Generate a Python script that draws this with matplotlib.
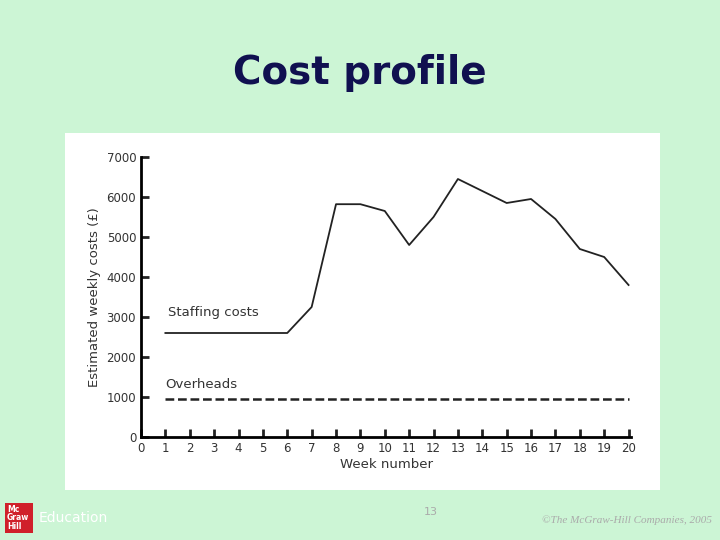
import matplotlib
matplotlib.use("Agg")
import matplotlib.pyplot as plt
from matplotlib.patches import Rectangle

weeks = list(range(1, 21))
staffing = [2600, 2600, 2600, 2600, 2600, 2600, 3250, 5820, 5820, 5650,
            4800, 5500, 6450, 6150, 5850, 5950, 5450, 4700, 4500, 3800]
overheads = [950] * 20
xticks = list(range(0, 21))
yticks = [0, 1000, 2000, 3000, 4000, 5000, 6000, 7000]

bg = "#ccf5d5"
fig = plt.figure(figsize=(7.2, 5.4), dpi=100, facecolor=bg)
fig.add_artist(Rectangle((65/720, 1-490/540), 595/720, 357/540,
                         transform=fig.transFigure, facecolor="white", edgecolor="none", zorder=0))
ax = fig.add_axes([141/720, 1-437/540, 490/720, 280/540])
ax.set_facecolor("white")
ax.plot(weeks, staffing, color="#222222", lw=1.3)
ax.plot(weeks, overheads, color="#222222", lw=1.8, ls=(0, (3.5, 1.5)))
ax.set_xlim(0, 20.1)
ax.set_ylim(0, 7000)
ax.set_xticks(xticks)
ax.set_yticks(yticks)
ax.tick_params(direction="in", length=6, width=2, labelsize=8.5, color="#222222", labelcolor="#333333")
for s in ["top", "right"]:
    ax.spines[s].set_visible(False)
for s in ["left", "bottom"]:
    ax.spines[s].set_linewidth(2)
ax.set_xlabel("Week number", fontsize=9.5, labelpad=2, color="#333333")
ax.set_ylabel("Estimated weekly costs (£)", fontsize=9.5, labelpad=4, color="#333333")
ax.text(1.1, 2950, "Staffing costs", fontsize=9.5, va="bottom", color="#333333")
ax.text(1.0, 1150, "Overheads", fontsize=9.5, va="bottom", color="#333333")

fig.text(0.5, 1-73/540, "Cost profile", ha="center", va="center",
         fontsize=28, fontweight="bold", color="#101050")
fig.text(431/720, 1-512/540, "13", ha="center", va="center", fontsize=8, color="#aaaaaa")
fig.text(712/720, 1-520/540, "©The McGraw-Hill Companies, 2005", ha="right", va="center",
         fontsize=8, color="#aaaaaa", style="italic", family="Liberation Serif")
fig.add_artist(Rectangle((5/720, 1-533/540), 28/720, 30/540, transform=fig.transFigure,
                         facecolor="#d0202a", edgecolor="none"))
fig.text(7/720, 1-518/540, "Mc\nGraw\nHill", fontsize=5.5, color="white", va="center",
         fontweight="bold", linespacing=0.9)
fig.text(39/720, 1-518/540, "Education", fontsize=10, color="white", va="center")
fig.savefig("out.png", dpi=100, facecolor=bg)
